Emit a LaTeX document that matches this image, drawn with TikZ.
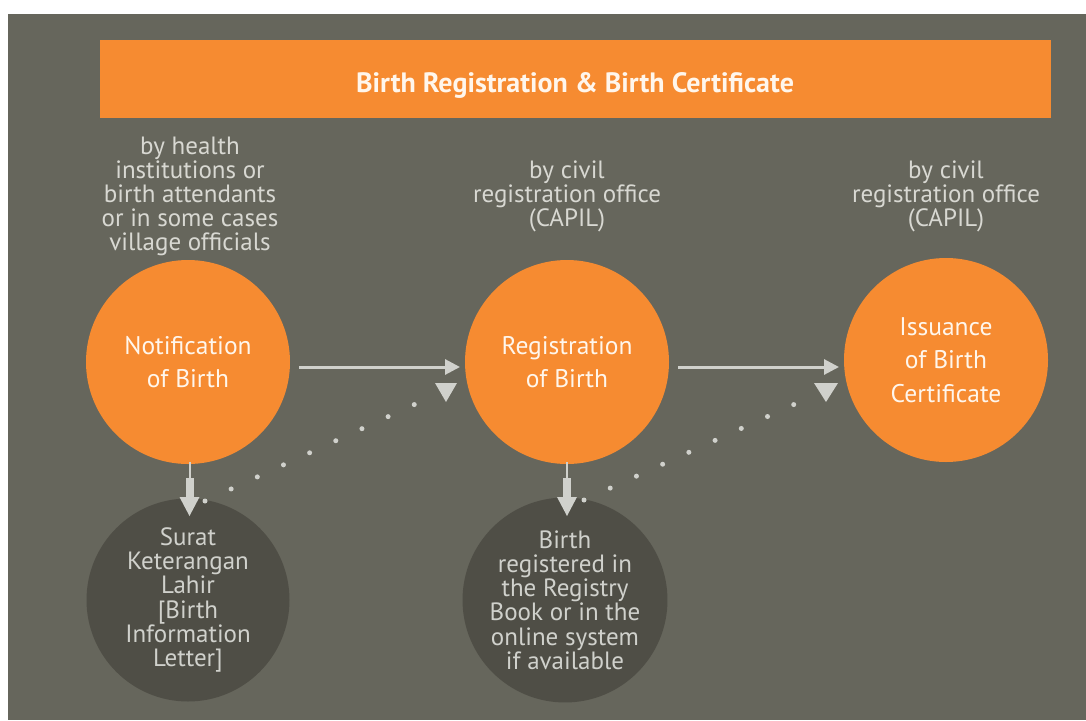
\documentclass[tikz,border=0pt]{standalone}
\usepackage{fontspec}
\setmainfont{PT Sans}
\usetikzlibrary{arrows.meta}
\definecolor{bgc}{HTML}{66665C}
\definecolor{orng}{HTML}{F68B31}
\definecolor{darkc}{HTML}{4F4E46}
\definecolor{lgray}{HTML}{D0D1CC}
\definecolor{anno}{HTML}{D8D8D2}
\definecolor{wtxt}{HTML}{FFF6EC}
\tikzset{
  stepcirc/.style={circle, fill=orng, minimum size=204pt, inner sep=0pt, align=center,
    text=wtxt, font=\fontsize{25.5}{33.5}\selectfont},
  resultcirc/.style={circle, fill=darkc, minimum size=203pt, inner sep=0pt, align=center,
    text=lgray, font=\fontsize{25}{24.2}\selectfont},
  annot/.style={align=center, text=anno, font=\fontsize{25}{24}\selectfont, inner sep=0pt},
  flowarrow/.style={draw=lgray, line width=3pt, -{Triangle[length=15pt,width=15pt]}},
  dotline/.style={draw=lgray, line width=5pt, line cap=round, dash pattern=on 0pt off 28.8pt},
  tri/.style={fill=lgray}
}
\begin{document}
\begin{tikzpicture}[x=1pt,y=-1pt]
\useasboundingbox (0,0) rectangle (1086,720);
\fill[white] (0,0) rectangle (1086,720);
\fill[bgc] (8,14) rectangle (1086,720);
\node[fill=orng, minimum width=951pt, minimum height=78pt, inner sep=0pt] (banner) at (575.5,79) {};
\node[text=wtxt, font=\bfseries\fontsize{28}{30}\selectfont, inner sep=0pt] (title) at (575,85) {Birth Registration \& Birth Certificate};

\node[annot] (a1) at (190,196) {by health\\institutions or\\birth attendants\\or in some cases\\village officials};
\node[annot] (a2) at (567,196) {by civil\\registration office\\(CAPIL)};
\node[annot] (a3) at (946,196) {by civil\\registration office\\(CAPIL)};

\node[stepcirc] (n1) at (188,362) {Notification\\of Birth};
\node[stepcirc] (n2) at (567,362) {Registration\\of Birth};
\node[stepcirc] (n3) at (946,360) {Issuance\\of Birth\\Certificate};

\node[resultcirc] (r1) at (188,600) {Surat\\Keterangan\\Lahir\\{[Birth}\\Information\\Letter]};
\node[resultcirc] (r2) at (565,600) {Birth\\registered in\\the Registry\\Book or in the\\online system\\if available};

% horizontal arrows
\coordinate (h1s) at (299,367); \coordinate (h1e) at (460,367);
\coordinate (h2s) at (678,367); \coordinate (h2e) at (839,367);
\draw[flowarrow] (h1s) -- (h1e);
\draw[flowarrow] (h2s) -- (h2e);

% dotted lines
\coordinate (d1s) at (205,501); \coordinate (d1e) at (415.5,404);
\coordinate (d2s) at (584,500); \coordinate (d2e) at (795,404);
\draw[dotline] (d1s) -- (d1e);
\draw[dotline] (d2s) -- (d2e);
\fill[tri] (435,383) -- (457,383) -- (446,402) -- cycle;
\fill[tri] (814,383) -- (838,383) -- (826,402) -- cycle;

% vertical arrows
\foreach \cx/\nm in {189.5/n1, 567/n2}{
  \draw[lgray, line width=2pt] (\cx,462) -- (\cx,479);
  \fill[lgray] (\cx-4,478) rectangle (\cx+4,498);
  \fill[lgray] (\cx-10,497) -- (\cx+10,497) -- (\cx,516) -- cycle;
}
\end{tikzpicture}
\end{document}
